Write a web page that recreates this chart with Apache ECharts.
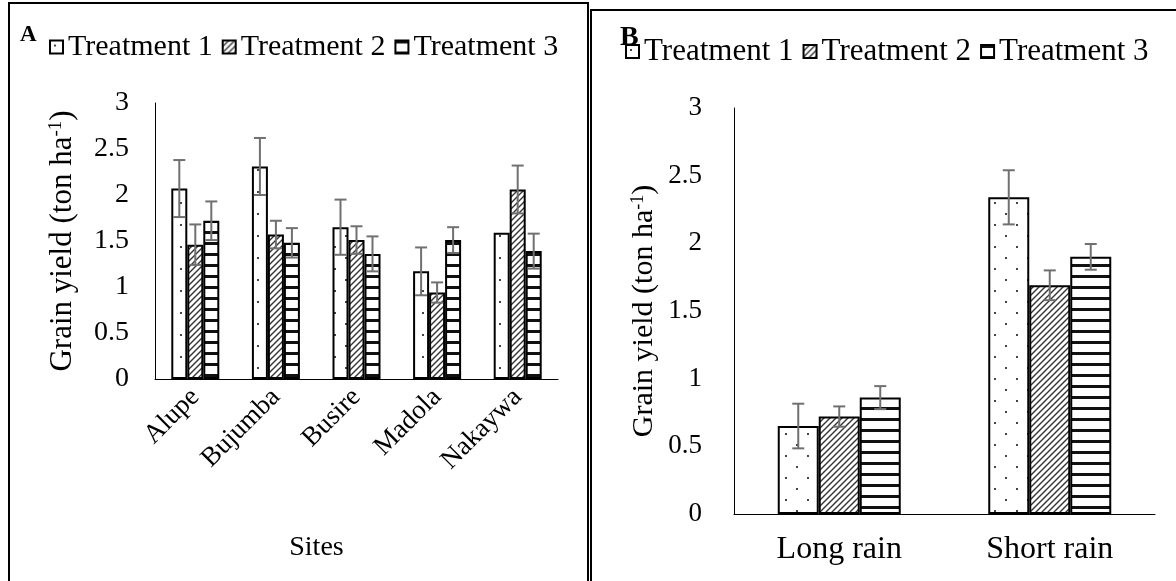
<!DOCTYPE html>
<html>
<head>
<meta charset="utf-8">
<script src="https://cdn.jsdelivr.net/npm/echarts@6/dist/echarts.min.js"></script>
<style>
  html, body { margin: 0; padding: 0; background: #fff; }
  #chart { width: 1176px; height: 581px; }
</style>
</head>
<body>
<div id="chart"></div>
<script>
// Panel A: grain yield by site
const sites = ['Alupe', 'Bujumba', 'Busire', 'Madola', 'Nakaywa'];
const siteT1 = [2.07, 2.31, 1.65, 1.17, 1.59];
const siteT1Err = [0.31, 0.31, 0.30, 0.26, 0];
const siteT2 = [1.46, 1.57, 1.51, 0.94, 2.06];
const siteT2Err = [0.22, 0.15, 0.15, 0.11, 0.26];
const siteT3 = [1.72, 1.48, 1.36, 1.51, 1.39];
const siteT3Err = [0.21, 0.16, 0.19, 0.14, 0.19];

// Panel B: grain yield by season
const seasons = ['Long rain', 'Short rain'];
const seasonT1 = [0.65, 2.34];
const seasonT1Err = [0.165, 0.20];
const seasonT2 = [0.72, 1.69];
const seasonT2Err = [0.075, 0.11];
const seasonT3 = [0.86, 1.90];
const seasonT3Err = [0.085, 0.095];

const yTicks = [0, 0.5, 1, 1.5, 2, 2.5, 3];
const treatments = ['Treatment 1', 'Treatment 2', 'Treatment 3'];

const FONT = '"Liberation Serif", "Times New Roman", serif';

// Fill patterns: dots, diagonal hatch, horizontal stripes
function dotPattern() {
  const c = document.createElement('canvas');
  c.width = 22; c.height = 22;
  const g = c.getContext('2d');
  g.fillStyle = '#fff'; g.fillRect(0, 0, 22, 22);
  g.fillStyle = '#444';
  g.fillRect(4, 4, 2, 2);
  g.fillRect(15, 15, 2, 2);
  return { image: c, repeat: 'repeat' };
}
function hatchPattern() {
  const s = 6;
  const c = document.createElement('canvas');
  c.width = s; c.height = s;
  const g = c.getContext('2d');
  g.fillStyle = '#fff'; g.fillRect(0, 0, s, s);
  g.strokeStyle = '#333'; g.lineWidth = 1.4;
  g.beginPath();
  g.moveTo(0, s); g.lineTo(s, 0);
  g.moveTo(-1, 1); g.lineTo(1, -1);
  g.moveTo(s - 1, s + 1); g.lineTo(s + 1, s - 1);
  g.stroke();
  return { image: c, repeat: 'repeat' };
}
function stripePattern() {
  const c = document.createElement('canvas');
  c.width = 4; c.height = 11;
  const g = c.getContext('2d');
  g.fillStyle = '#fff'; g.fillRect(0, 0, 4, 11);
  g.fillStyle = '#111'; g.fillRect(0, 0, 4, 3);
  return { image: c, repeat: 'repeat' };
}
const fills = [dotPattern(), hatchPattern(), stripePattern()];

function errData(vals, errs) {
  return vals.map((v, i) => [i, v - errs[i], v + errs[i], errs[i]]);
}

// Error bar drawn at the centre of the idx-th bar in its category group
function errorSeries(name, gridIdx, vals, errs, idx, barW) {
  return {
    type: 'custom',
    name: name + ' err',
    xAxisIndex: gridIdx, yAxisIndex: gridIdx,
    z: 10,
    silent: true,
    data: errData(vals, errs),
    renderItem: function (params, api) {
      if (api.value(3) <= 0) return null;
      const top = api.coord([api.value(0), api.value(2)]);
      const bot = api.coord([api.value(0), api.value(1)]);
      const x = top[0] + (idx - 1) * barW;
      const cap = 6;
      const style = { stroke: '#707070', lineWidth: 2 };
      return {
        type: 'group',
        children: [
          { type: 'line', shape: { x1: x, y1: top[1], x2: x, y2: bot[1] }, style: style },
          { type: 'line', shape: { x1: x - cap, y1: top[1], x2: x + cap, y2: top[1] }, style: style },
          { type: 'line', shape: { x1: x - cap, y1: bot[1], x2: x + cap, y2: bot[1] }, style: style }
        ]
      };
    }
  };
}

function barSeries(name, gridIdx, vals, idx, barW) {
  return {
    type: 'bar',
    name: name,
    xAxisIndex: gridIdx, yAxisIndex: gridIdx,
    barWidth: barW,
    barGap: '0%',
    data: vals,
    itemStyle: { color: fills[idx], borderColor: '#000', borderWidth: 2 },
    emphasis: { disabled: true }
  };
}

const barWA = 16, barWB = 41;
const yName = 'Grain yield (ton ha{sup|-1})';

function yAxis(gridIdx, fontSize, nameGap, nameSize, labelMargin) {
  return {
    type: 'value', gridIndex: gridIdx,
    min: 0, max: 3, interval: 0.5,
    axisLine: { show: true, lineStyle: { color: '#000', width: 1 } },
    axisTick: { show: false },
    splitLine: { show: false },
    axisLabel: { color: '#000', fontFamily: FONT, fontSize: fontSize, margin: labelMargin,
      formatter: v => yTicks.includes(v) ? String(v) : '' },
    name: yName,
    nameLocation: 'middle',
    nameGap: nameGap,
    nameRotate: 90,
    nameTextStyle: {
      color: '#000', fontFamily: FONT, fontSize: nameSize,
      rich: { sup: { fontFamily: FONT, fontSize: Math.round(nameSize * 0.6), verticalAlign: 'top', color: '#000', lineHeight: nameSize } }
    }
  };
}

function legend(left, top, size) {
  return {
    left: left, top: top, padding: 0,
    itemWidth: 13, itemHeight: 13, itemGap: 9, icon: 'rect',
    data: treatments,
    textStyle: { fontFamily: FONT, fontSize: size, color: '#000' }
  };
}

const chart = echarts.init(document.getElementById('chart'));
chart.setOption({
  backgroundColor: '#fff',
  animation: false,
  graphic: [
    { type: 'rect', shape: { x: 9, y: 3, width: 579, height: 600 }, style: { fill: 'none', stroke: '#000', lineWidth: 2 } },
    { type: 'rect', shape: { x: 591, y: 10, width: 620, height: 600 }, style: { fill: 'none', stroke: '#000', lineWidth: 2 } },
    { type: 'text', left: 20, top: 24, style: { text: 'A', fontFamily: FONT, fontWeight: 'bold', fontSize: 23, fill: '#000' } },
    { type: 'text', left: 620, top: 24, style: { text: 'B', fontFamily: FONT, fontWeight: 'bold', fontSize: 28, fill: '#000' } }
  ],
  legend: [
    legend(49, 32, 30),
    legend(625, 36, 31)
  ],
  grid: [
    { left: 155, right: 618, top: 103, bottom: 202, containLabel: false },
    { left: 734, right: 21, top: 108, bottom: 67, containLabel: false }
  ],
  xAxis: [
    {
      type: 'category', gridIndex: 0, data: sites,
      axisLine: { lineStyle: { color: '#000', width: 1 } },
      axisTick: { show: false },
      axisLabel: { color: '#000', fontFamily: FONT, fontSize: 27, rotate: 45, margin: 14, interval: 0 },
      name: 'Sites', nameLocation: 'middle', nameGap: 155,
      nameTextStyle: { color: '#000', fontFamily: FONT, fontSize: 28, padding: [0, 80, 0, 0] }
    },
    {
      type: 'category', gridIndex: 1, data: seasons,
      axisLine: { lineStyle: { color: '#000', width: 1 } },
      axisTick: { show: false },
      axisLabel: { color: '#000', fontFamily: FONT, fontSize: 32, margin: 20, interval: 0 }
    }
  ],
  yAxis: [
    yAxis(0, 28, 77, 31, 26),
    yAxis(1, 27, 75, 30, 32)
  ],
  series: [
    barSeries(treatments[0], 0, siteT1, 0, barWA),
    barSeries(treatments[1], 0, siteT2, 1, barWA),
    barSeries(treatments[2], 0, siteT3, 2, barWA),
    errorSeries(treatments[0], 0, siteT1, siteT1Err, 0, barWA),
    errorSeries(treatments[1], 0, siteT2, siteT2Err, 1, barWA),
    errorSeries(treatments[2], 0, siteT3, siteT3Err, 2, barWA),
    barSeries(treatments[0], 1, seasonT1, 0, barWB),
    barSeries(treatments[1], 1, seasonT2, 1, barWB),
    barSeries(treatments[2], 1, seasonT3, 2, barWB),
    errorSeries(treatments[0], 1, seasonT1, seasonT1Err, 0, barWB),
    errorSeries(treatments[1], 1, seasonT2, seasonT2Err, 1, barWB),
    errorSeries(treatments[2], 1, seasonT3, seasonT3Err, 2, barWB)
  ]
});
</script>
</body>
</html>
